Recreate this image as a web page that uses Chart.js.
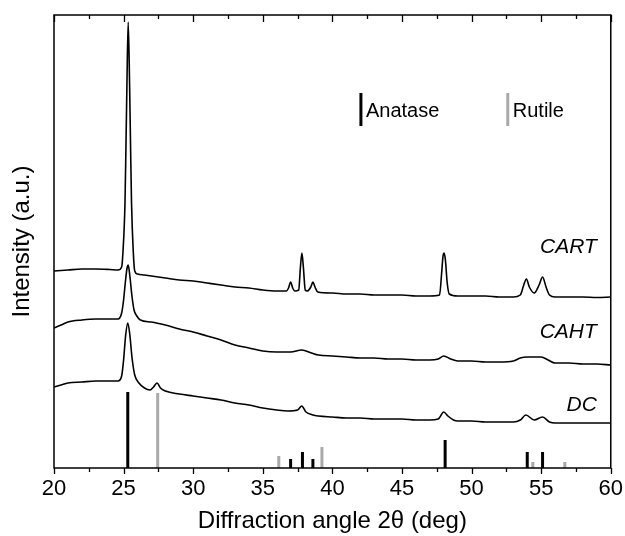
<!DOCTYPE html>
<html>
<head>
<meta charset="utf-8">
<script src="https://cdn.jsdelivr.net/npm/chart.js@4.4.1/dist/chart.umd.min.js"></script>
<style>
  html, body { margin: 0; padding: 0; background: #ffffff; }
  canvas { display: block; }
</style>
</head>
<body>
<canvas id="c" width="625" height="536"></canvas>
<script>
// ---- Data (2θ in degrees, intensity in arbitrary units, traces offset as displayed) ----
const xTickLabels = ['20', '25', '30', '35', '40', '45', '50', '55', '60'];

const CART = [[20,197],[21,198],[22,199],[23,199],[24,198.5],[24.6,198],[24.86,201],[24.95,215],[25.1,265],[25.17,322],[25.24,384],[25.33,446],[25.43,384],[25.5,322],[25.57,265],[25.7,215],[25.8,197],[26.0,194],[26.5,193],[27,192],[28,190],[29,188],[30,187],[31,185],[32,183],[33,181],[34,180],[35,178],[36,177],[36.7,177],[36.85,180],[37.0,186],[37.15,180],[37.3,177],[37.58,178],[37.7,200],[37.81,215],[37.92,200],[38.05,178],[38.2,177],[38.45,181],[38.6,186],[38.75,181],[38.95,176],[40,175],[41,174],[42,174],[43,173],[44,173],[45,173],[46,172],[47,172],[47.7,173],[47.85,195],[47.95,212],[48.03,215],[48.12,208],[48.25,185],[48.4,174],[49,172],[50,172],[51,172],[52,171],[53,171],[53.5,173],[53.75,183],[53.94,189],[54.15,181],[54.5,175],[54.85,183],[55.1,191],[55.35,181],[55.6,173],[56,171],[57,171],[58,171],[59,170.5],[60,171]];

const CAHT = [[20,140],[20.5,143],[21,146],[22,148],[23,149],[24,149],[24.6,149],[24.86,155],[25.0,168],[25.12,185],[25.25,200],[25.33,203],[25.45,192],[25.6,172],[25.75,158],[25.95,152],[26.2,148],[27,146],[28,143],[29,139],[30,136],[31,132],[32,128],[33,123],[34,120],[35,117],[36,116],[37,116],[37.8,118],[38.5,115],[39,113],[40,112],[41,111],[42,110],[43,110],[44,109],[45,109],[46,108],[47,108],[47.6,109],[48.0,112],[48.5,109],[49,107],[50,107],[51,106],[52,106],[53,107],[53.5,110],[54,111],[54.5,111],[55,111],[55.5,108],[56,105],[57,105],[58,104],[59,104],[60,103]];

const DC = [[20,81],[20.5,83],[21,85],[22,86],[23,87],[24,87],[24.6,87],[24.86,92],[25.0,108],[25.15,133],[25.3,145],[25.45,133],[25.6,111],[25.8,93],[26.1,85],[26.5,80],[26.9,78],[27.15,81],[27.4,85],[27.65,80],[28,77],[29,74],[30,72],[31,70],[32,68],[33,65],[34,63],[35,60],[36,58],[36.8,57],[37.5,58],[37.8,62],[38.1,56],[38.6,53],[39,52],[40,51],[41,50],[42,50],[43,49],[44,49],[45,49],[46,48],[47,48],[47.6,49],[48.0,56],[48.3,52],[48.7,48],[49,47],[50,47],[51,46],[52,46],[53,46],[53.5,48],[53.9,53],[54.5,48],[55.1,51],[55.6,46],[56,45],[57,45],[58,45],[59,45],[60,45]];

// Reference patterns (stick positions and heights)
const anatasePos = [25.3, 37.0, 37.85, 38.6, 48.1, 54.0, 55.1];
const anataseInt = [76, 9, 16, 9, 28, 16, 16];
const rutilePos  = [27.45, 36.15, 39.25, 54.4, 56.7];
const rutileInt  = [75, 12, 21, 6, 6];

const traceNames = ['CART', 'CAHT', 'DC'];
const traceLabelY = [221, 136, 63];

// ---- Helpers ----
function toPoints(pairs) { return pairs.map(p => ({ x: p[0], y: p[1] })); }
function sticks(pos, ints) {
  const out = [];
  pos.forEach((p, i) => { out.push({ x: p, y: 0 }, { x: p, y: ints[i] }, { x: p, y: null }); });
  return out;
}

const FONT = "'Liberation Sans', Arial, Helvetica, sans-serif";

const framePlugin = {
  id: 'frame',
  afterDatasetsDraw(chart) {
    const { ctx, chartArea: a, scales } = chart;
    const xs = scales.x, ys = scales.y;
    ctx.save();
    // frame
    ctx.strokeStyle = '#000';
    ctx.lineWidth = 1.5;
    ctx.strokeRect(a.left, a.top, a.right - a.left, a.bottom - a.top);
    // ticks
    ctx.lineWidth = 1.3;
    for (let v = 20; v <= 60.001; v += 2.5) {
      const major = Math.abs(v / 5 - Math.round(v / 5)) < 1e-6;
      const px = Math.round(xs.getPixelForValue(v)) + 0.5;
      const lb = major ? 6 : 4;
      const lt = major ? 7 : 4;
      ctx.beginPath();
      ctx.moveTo(px, a.bottom); ctx.lineTo(px, a.bottom + lb);
      ctx.moveTo(px, a.top); ctx.lineTo(px, a.top + lt);
      ctx.stroke();
    }
    // sample labels
    ctx.fillStyle = '#000';
    ctx.font = 'italic 21px ' + FONT;
    ctx.textAlign = 'right';
    ctx.textBaseline = 'middle';
    traceNames.forEach((n, i) => {
      ctx.fillText(n, xs.getPixelForValue(59.0), ys.getPixelForValue(traceLabelY[i]));
    });
    // legend
    const legend = [
      { text: 'Anatase', color: '#000000', x: 42.05 },
      { text: 'Rutile', color: '#a9a9a9', x: 52.6 }
    ];
    ctx.font = '20px ' + FONT;
    ctx.textAlign = 'left';
    legend.forEach(l => {
      const px = xs.getPixelForValue(l.x);
      ctx.strokeStyle = l.color;
      ctx.lineWidth = 3;
      ctx.beginPath();
      ctx.moveTo(px, ys.getPixelForValue(375));
      ctx.lineTo(px, ys.getPixelForValue(342));
      ctx.stroke();
      ctx.fillStyle = '#000';
      ctx.fillText(l.text, px + 5, ys.getPixelForValue(357));
    });
    ctx.restore();
  }
};

const traceStyle = {
  borderColor: '#000',
  borderWidth: 1.6,
  pointRadius: 0,
  fill: false,
  cubicInterpolationMode: 'monotone'
};

new Chart(document.getElementById('c'), {
  type: 'line',
  data: {
    datasets: [
      Object.assign({ label: 'CART', data: toPoints(CART) }, traceStyle),
      Object.assign({ label: 'CAHT', data: toPoints(CAHT) }, traceStyle),
      Object.assign({ label: 'DC', data: toPoints(DC) }, traceStyle),
      { label: 'Anatase', data: sticks(anatasePos, anataseInt), borderColor: '#000000', borderWidth: 3,
        borderCapStyle: 'butt', pointRadius: 0, spanGaps: false, tension: 0 },
      { label: 'Rutile', data: sticks(rutilePos, rutileInt), borderColor: '#a9a9a9', borderWidth: 3,
        borderCapStyle: 'butt', pointRadius: 0, spanGaps: false, tension: 0 }
    ]
  },
  options: {
    responsive: false,
    devicePixelRatio: 1,
    animation: false,
    layout: { padding: { top: 15, right: 14, left: 0, bottom: 0 } },
    plugins: { legend: { display: false }, tooltip: { enabled: false } },
    scales: {
      x: {
        type: 'linear',
        min: 20, max: 60,
        grid: { display: true, drawOnChartArea: false, drawTicks: true, tickLength: 6, color: 'rgba(0,0,0,0)' },
        border: { display: false },
        ticks: {
          stepSize: 5, padding: 2, maxRotation: 0, autoSkip: false,
          color: '#000', font: { family: FONT, size: 22 },
          callback: (v) => xTickLabels[Math.round((v - 20) / 5)] ?? ''
        },
        title: { display: true, text: 'Diffraction angle 2θ (deg)', color: '#000',
                 font: { family: FONT, size: 24 }, padding: { top: 0, bottom: 0 } },
        afterFit(scale) { scale.height = 68; }
      },
      y: {
        type: 'linear',
        min: 0, max: 453,
        grid: { display: false },
        border: { display: false },
        ticks: { display: false },
        title: { display: true, text: 'Intensity (a.u.)', color: '#000',
                 font: { family: FONT, size: 24 }, padding: { top: 8, bottom: 0 } },
        afterFit(scale) { scale.width = 54; }
      }
    }
  },
  plugins: [framePlugin]
});
</script>
</body>
</html>
